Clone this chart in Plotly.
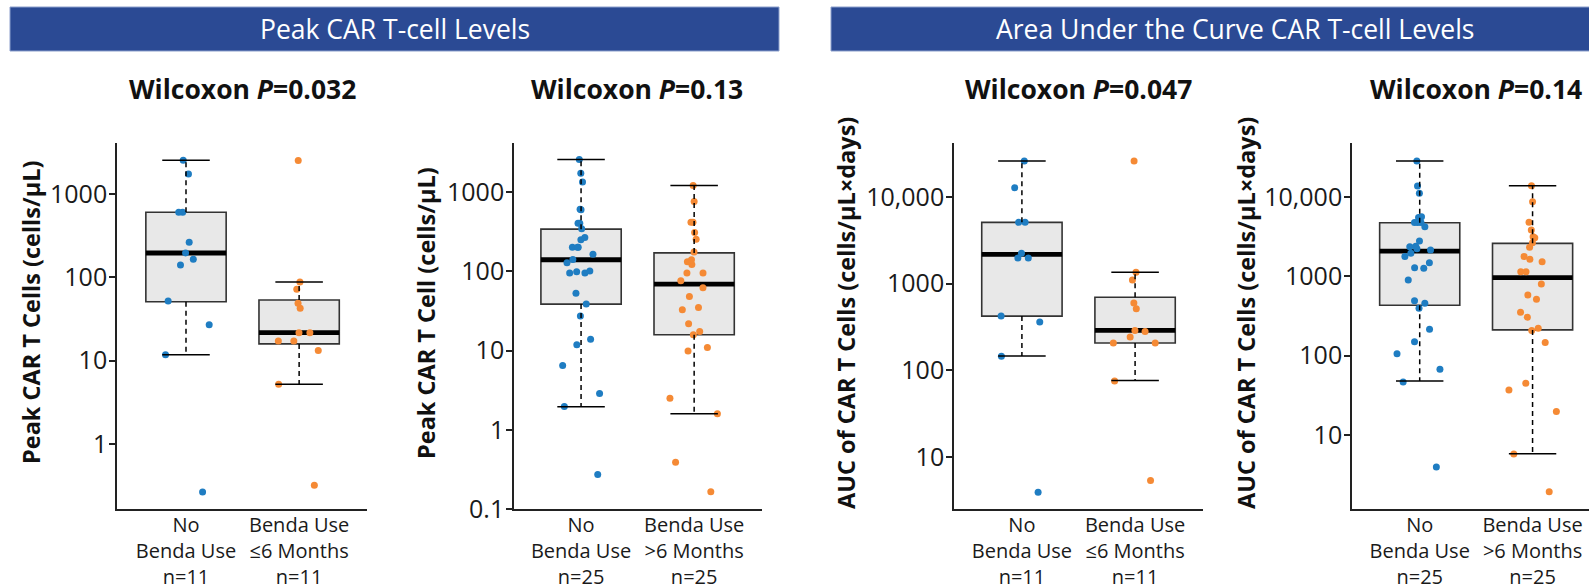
import plotly.graph_objects as go

# ---------------- data ----------------
# group labels on the x axes
cats_le6 = ["No<br>Benda Use<br>n=11", "Benda Use<br>≤6 Months<br>n=11"]
cats_gt6 = ["No<br>Benda Use<br>n=25", "Benda Use<br>&gt;6 Months<br>n=25"]

# Peak CAR T-cell levels (cells/μL): no benda vs benda ≤6 months
peak_le6_no = [2540, 1740, 604, 604, 264, 196, 165, 141, 52, 27, 11.8, 0.265]
peak_le6_benda = [2520, 88, 72, 49, 42.6, 21.7, 21.7, 17.2, 17.2, 13.2, 5.2, 0.32]
# box summaries: lower whisker, q1, median, q3, upper whisker
peak_le6_no_box = [11.8, 51, 196, 604, 2540]
peak_le6_benda_box = [5.2, 15.9, 21.7, 53.5, 88]

# Peak CAR T-cell levels: no benda vs benda >6 months
peak_gt6_no = [2580, 1735, 1345, 609, 597, 406, 406, 344, 267, 250, 202, 202, 202,
               164, 141, 128, 101, 98.6, 95, 95, 53, 38.6, 27.4, 13.9, 11.8, 6.5,
               2.87, 1.97, 0.273]
peak_gt6_benda = [1210, 760, 418, 418, 309, 255, 175, 140, 132, 122, 95, 95, 76, 62,
                  48, 35, 32.7, 21.8, 17.4, 15.8, 10.9, 9.9, 2.5, 1.59, 0.39, 0.165]
peak_gt6_no_box = [1.95, 38.6, 140, 341, 2580]
peak_gt6_benda_box = [1.59, 15.8, 69, 171, 1210]

# AUC of CAR T-cell levels (cells/μL×days): no benda vs benda ≤6 months
auc_le6_no = [25900, 12700, 5070, 5070, 2230, 1970, 1970, 421, 359, 145, 3.93]
auc_le6_benda = [25900, 1350, 1100, 594, 512, 288, 280, 241, 206, 206, 75, 5.35]
auc_le6_no_box = [146, 421, 2170, 5070, 25900]
auc_le6_benda_box = [76, 206, 288, 695, 1350]

# AUC of CAR T-cell levels: no benda vs benda >6 months
auc_gt6_no = [28400, 13700, 11100, 5620, 5520, 5370, 4780, 4780, 4780, 4210, 2780,
              2390, 2350, 2230, 2140, 1950, 1770, 1480, 1280, 1260, 897, 493, 457,
              395, 215, 150, 106, 67.6, 46.5, 3.95]
auc_gt6_benda = [13800, 8670, 4790, 3830, 3150, 3060, 2650, 2320, 1770, 1640, 1530,
                 1140, 1140, 800, 582, 514, 352, 305, 222, 207, 146, 45, 37, 19.8,
                 5.77, 1.92]
auc_gt6_no_box = [48, 432, 2080, 4720, 28400]
auc_gt6_benda_box = [5.8, 211, 960, 2600, 13800]

# y-axis ticks
peak_le6_ticks = [1, 10, 100, 1000]
peak_le6_ticktext = ["1", "10", "100", "1000"]
peak_gt6_ticks = [0.1, 1, 10, 100, 1000]
peak_gt6_ticktext = ["0.1", "1", "10", "100", "1000"]
auc_ticks = [10, 100, 1000, 10000]
auc_ticktext = ["10", "100", "1000", "10,000"]

# test results and section headings
pvals = ["0.032", "0.13", "0.047", "0.14"]
ytitles = ["Peak CAR T Cells (cells/μL)", "Peak CAR T Cell (cells/μL)",
           "AUC of CAR T Cells (cells/μL×days)", "AUC of CAR T Cells (cells/μL×days)"]
headings = ["Peak CAR T-cell Levels", "Area Under the Curve CAR T-cell Levels"]

# ---------------- styling / layout ----------------
W, H = 1589, 588
FONT = "Open Sans"
BLUE = "#1F7DC2"
ORANGE = "#F58A35"
NAVY = "#2B4A94"
BOX_FILL = "#E8E8E8"
BOX_W = 0.71
CAP = 0.21


def px(x):
    return x / W


def py(y):
    return (H - y) / H


YDOM = [py(509), py(143)]
panels = [
    dict(xdom=[px(117), px(367)], xr=[-0.61, 1.60], yr=[-0.78, 3.612],
         cats=cats_le6, ticks=peak_le6_ticks, ticktext=peak_le6_ticktext,
         groups=[(peak_le6_no, peak_le6_no_box), (peak_le6_benda, peak_le6_benda_box)],
         title_x=242, ytitle_x=31),
    dict(xdom=[px(514), px(762)], xr=[-0.593, 1.60], yr=[-1.0, 3.62],
         cats=cats_gt6, ticks=peak_gt6_ticks, ticktext=peak_gt6_ticktext,
         groups=[(peak_gt6_no, peak_gt6_no_box), (peak_gt6_benda, peak_gt6_benda_box)],
         title_x=637, ytitle_x=426),
    dict(xdom=[px(954), px(1203)], xr=[-0.60, 1.60], yr=[0.40, 4.62],
         cats=cats_le6, ticks=auc_ticks, ticktext=auc_ticktext,
         groups=[(auc_le6_no, auc_le6_no_box), (auc_le6_benda, auc_le6_benda_box)],
         title_x=1078, ytitle_x=846),
    dict(xdom=[px(1352), 1.0], xr=[-0.60, 1.50], yr=[0.067, 4.68],
         cats=cats_gt6, ticks=auc_ticks, ticktext=auc_ticktext,
         groups=[(auc_gt6_no, auc_gt6_no_box), (auc_gt6_benda, auc_gt6_benda_box)],
         title_x=1476, ytitle_x=1246),
]

fig = go.Figure()
annotations = []
shapes = []
layout_axes = {}

for i, p in enumerate(panels):
    n = i + 1
    xa = "x" if n == 1 else f"x{n}"
    ya = "y" if n == 1 else f"y{n}"
    xkey = "xaxis" if n == 1 else f"xaxis{n}"
    ykey = "yaxis" if n == 1 else f"yaxis{n}"

    for pos, ((vals, stats), color) in enumerate(zip(p["groups"], [BLUE, ORANGE])):
        lo, q1, med, q3, hi = stats
        common = dict(x=[pos], width=BOX_W, orientation="v", xaxis=xa, yaxis=ya,
                      showlegend=False, hoverinfo="skip", whiskerwidth=0)
        # box body
        fig.add_trace(go.Box(q1=[q1], median=[med], q3=[q3], lowerfence=[q1],
                             upperfence=[q3], fillcolor=BOX_FILL, boxpoints=False,
                             line=dict(color="#333333", width=1.6), **common))
        # thick median bar
        fig.add_trace(go.Box(q1=[med], median=[med], q3=[med], lowerfence=[med],
                             upperfence=[med], fillcolor="rgba(0,0,0,0)", boxpoints=False,
                             line=dict(color="black", width=4.8), **common))
        # jittered observations
        fig.add_trace(go.Box(y=[vals], q1=[q1], median=[med], q3=[q3], lowerfence=[q1],
                             upperfence=[q3], fillcolor="rgba(0,0,0,0)", boxpoints="all",
                             jitter=0.8, pointpos=0,
                             marker=dict(color=color, size=7, opacity=1),
                             line=dict(color="rgba(0,0,0,0)", width=0), **common))
        # dashed whiskers
        fig.add_trace(go.Scatter(x=[pos, pos, None, pos, pos], y=[q3, hi, None, q1, lo],
                                 mode="lines", xaxis=xa, yaxis=ya, showlegend=False,
                                 hoverinfo="skip",
                                 line=dict(color="black", width=1.5, dash="5px,4px")))
        # whisker caps
        fig.add_trace(go.Scatter(x=[pos - CAP, pos + CAP, None, pos - CAP, pos + CAP],
                                 y=[hi, hi, None, lo, lo], mode="lines", xaxis=xa,
                                 yaxis=ya, showlegend=False, hoverinfo="skip",
                                 line=dict(color="black", width=1.5)))

    layout_axes[xkey] = dict(domain=p["xdom"], range=p["xr"], anchor=ya,
                             automargin=False,
                             tickvals=[0, 1], ticktext=p["cats"], ticks="",
                             ticklabelstandoff=-3,
                             showline=True, linecolor="#222222", linewidth=1.6,
                             showgrid=False, zeroline=False, fixedrange=True,
                             tickfont=dict(family=FONT, size=20, color="#1a1a1a"))
    layout_axes[ykey] = dict(domain=YDOM, type="log", range=p["yr"], anchor=xa,
                             automargin=False,
                             tickvals=p["ticks"], ticktext=p["ticktext"],
                             ticks="outside", ticklen=6, tickwidth=1.5,
                             ticklabelstandoff=-3,
                             tickcolor="#222222", showline=True, linecolor="#222222",
                             linewidth=1.6, showgrid=False, zeroline=False,
                             tickfont=dict(family=FONT, size=25, color="#1a1a1a"))

    annotations.append(dict(text=f"<b>Wilcoxon <i>P</i>=" + pvals[i] + "</b>",
                            x=px(p["title_x"]), y=py(89), xref="paper", yref="paper",
                            xanchor="center", yanchor="middle", showarrow=False,
                            font=dict(family=FONT, size=26.5, color="#111111")))
    annotations.append(dict(text=f"<b>{ytitles[i]}</b>", textangle=-90,
                            x=px(p["ytitle_x"]), y=py(313), xref="paper",
                            yref="paper", xanchor="center", yanchor="middle",
                            showarrow=False,
                            font=dict(family=FONT, size=23.5, color="#111111")))

# section heading bars
for (x0, x1, cx), text in zip([(10, 779, 394.5), (831, 1629, 1235)], headings):
    shapes.append(dict(type="rect", xref="paper", yref="paper", x0=px(x0), x1=px(x1),
                       y0=py(51), y1=py(7), fillcolor=NAVY,
                       line=dict(color="#8C9FCC", width=1), layer="above"))
    annotations.append(dict(text=text, x=px(cx), y=py(29), xref="paper", yref="paper",
                            xanchor="center", yanchor="middle", showarrow=False,
                            font=dict(family=FONT, size=26.5, color="white")))

fig.update_layout(width=W, height=H, margin=dict(l=0, r=0, t=0, b=0),
                  paper_bgcolor="white", plot_bgcolor="white", boxmode="overlay",
                  showlegend=False, annotations=annotations, shapes=shapes,
                  **layout_axes)

fig.write_html("out.html", config={"displayModeBar": False})
